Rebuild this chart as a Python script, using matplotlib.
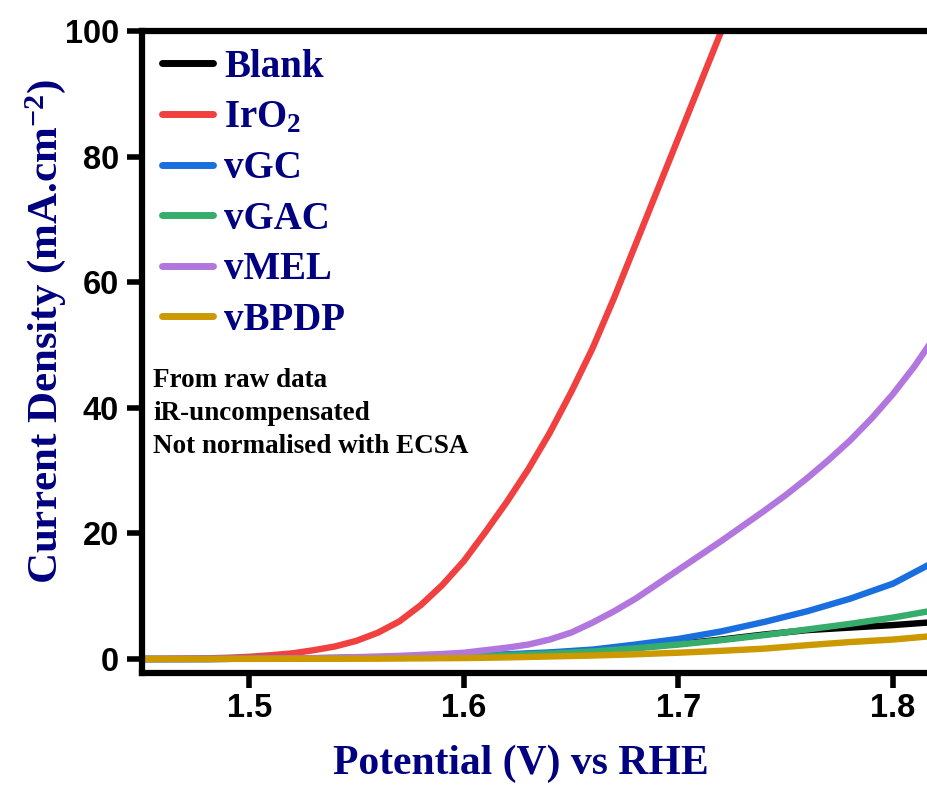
import matplotlib
matplotlib.use("Agg")
import matplotlib.pyplot as plt

# Polarisation curves (OER), raw LSV data, current density in mA/cm2
v_fine = [1.45, 1.46, 1.47, 1.48, 1.49, 1.50, 1.51, 1.52, 1.53, 1.54,
          1.55, 1.56, 1.57, 1.58, 1.59, 1.60, 1.61, 1.62, 1.63, 1.64,
          1.65, 1.66, 1.67, 1.68, 1.69, 1.70, 1.71, 1.72, 1.73, 1.74,
          1.75, 1.76, 1.77, 1.78, 1.79, 1.80, 1.81, 1.82]
v_coarse = [1.45, 1.48, 1.50, 1.52, 1.54, 1.56, 1.58, 1.60, 1.62, 1.64,
            1.66, 1.68, 1.70, 1.72, 1.74, 1.76, 1.78, 1.80, 1.82]

j_iro2 = [0.0, 0.0, 0.05, 0.1, 0.2, 0.35, 0.6, 0.9, 1.4, 2.0,
          2.9, 4.2, 6.0, 8.6, 11.8, 15.6, 20.2, 25.0, 30.2, 36.0,
          42.5, 49.5, 57.5, 66.0, 74.5, 83.0, 91.5, 100.0]
j_vmel = [0.0, 0.0, 0.02, 0.03, 0.04, 0.05, 0.07, 0.1, 0.14, 0.2,
          0.3, 0.4, 0.5, 0.65, 0.8, 1.0, 1.4, 1.8, 2.3, 3.1,
          4.2, 5.8, 7.6, 9.6, 11.9, 14.2, 16.5, 18.8, 21.2, 23.6,
          26.1, 28.8, 31.7, 34.8, 38.3, 42.2, 46.6, 51.6]
j_blank = [0.0, 0.0, 0.05, 0.1, 0.15, 0.2, 0.3, 0.4, 0.65, 0.95,
           1.3, 1.8, 2.4, 3.1, 3.9, 4.6, 5.0, 5.4, 5.9]
j_vgc = [0.0, 0.0, 0.05, 0.1, 0.15, 0.25, 0.35, 0.5, 0.75, 1.05,
         1.5, 2.3, 3.2, 4.4, 5.9, 7.6, 9.6, 12.0, 15.6]
j_vgac = [0.0, 0.0, 0.05, 0.1, 0.15, 0.2, 0.3, 0.4, 0.6, 0.85,
          1.2, 1.7, 2.3, 3.0, 3.8, 4.7, 5.6, 6.6, 7.8]
j_vbpdp = [0.0, 0.0, 0.02, 0.03, 0.04, 0.05, 0.1, 0.15, 0.25, 0.4,
           0.55, 0.75, 1.0, 1.3, 1.65, 2.2, 2.7, 3.1, 3.7]

notes = ["From raw data", "iR-uncompensated", "Not normalised with ECSA"]

navy = "#000080"
plt.rcParams["mathtext.fontset"] = "custom"
plt.rcParams["mathtext.rm"] = "Liberation Serif:bold"
plt.rcParams["mathtext.bf"] = "Liberation Serif:bold"
plt.rcParams["mathtext.it"] = "Liberation Serif:bold"

W, H = 928, 785
fig = plt.figure(figsize=(W / 100, H / 100), dpi=100)
ax = fig.add_axes([142 / W, 112 / H, (W - 142) / W, 642 / H])

lw = 4.6
ax.plot(v_coarse, j_blank, color="black", lw=lw, label="Blank")
ax.plot(v_fine[:len(j_iro2)], j_iro2, color="#F14040", lw=lw, label="IrO$_2$")
ax.plot(v_coarse, j_vgc, color="#1A6FDF", lw=lw, label="vGC")
ax.plot(v_coarse, j_vgac, color="#37AD6B", lw=lw, label="vGAC")
ax.plot(v_fine, j_vmel, color="#B177DE", lw=lw, label="vMEL")
ax.plot(v_coarse, j_vbpdp, color="#CC9900", lw=lw, label="vBPDP")

ax.set_xlim(1.45, 1.8163)
ax.set_ylim(-2.23, 100)
ax.set_xticks([1.5, 1.6, 1.7, 1.8])
ax.set_yticks([0, 20, 40, 60, 80, 100])
ax.set_xticklabels(["1.5", "1.6", "1.7", "1.8"])

for s in ["left", "top", "bottom"]:
    ax.spines[s].set_linewidth(4.5)
ax.spines["right"].set_visible(False)
ax.tick_params(axis="both", direction="out", length=10.5, width=4, labelsize=23.5)
ax.tick_params(axis="x", pad=4)
ax.tick_params(axis="y", pad=6)
for lab in ax.get_xticklabels() + ax.get_yticklabels():
    lab.set_fontfamily("Liberation Sans")
    lab.set_fontweight("bold")

leg = ax.legend(loc="upper left", bbox_to_anchor=(20 / 786, 0.972),
                frameon=False, borderpad=0, borderaxespad=0,
                handlelength=1.3, handletextpad=0.3, labelspacing=0.35,
                prop={"family": "Liberation Serif", "weight": "bold", "size": 28},
                labelcolor=navy)
for line in leg.get_lines():
    line.set_linewidth(5)
    line.set_solid_capstyle("round")

for i, txt in enumerate(notes):
    ax.text(11 / 786, (673 - 387 - 33 * i) / 642, txt, transform=ax.transAxes,
            family="Liberation Serif", weight="bold", fontsize=19.5,
            color="black", va="baseline", ha="left")

fig.text(46 / W, 1 - 331 / H, "Current Density (mA.cm$^{-2}$)", rotation=90,
         family="Liberation Serif", weight="bold", fontsize=31, color=navy,
         ha="center", va="center")
fig.text(521 / W, 1 - 764 / H, "Potential (V) vs RHE",
         family="Liberation Serif", weight="bold", fontsize=30, color=navy,
         ha="center", va="center")

fig.savefig("out.png", dpi=100)
